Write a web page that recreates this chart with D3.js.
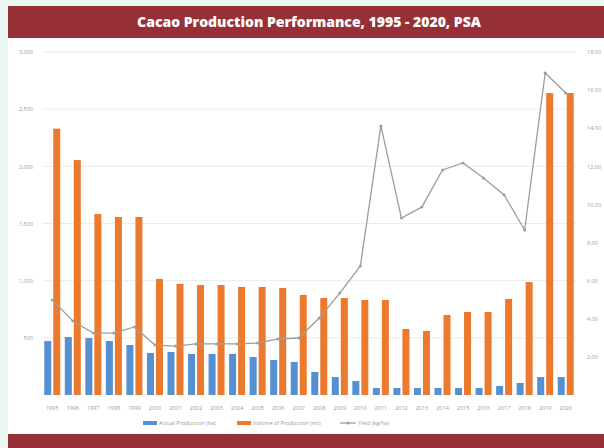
<!DOCTYPE html>
<html><head><meta charset="utf-8">
<script src="https://cdn.jsdelivr.net/npm/d3@7"></script>
<style>
html,body{margin:0;padding:0;background:#eaf6f1;}
svg{display:block;}
</style></head>
<body>
<svg id="c" width="604" height="448"></svg>
<script>
const years = ["1995","1996","1997","1998","1999","2000","2001","2002","2003","2004","2005","2006","2007","2008","2009","2010","2011","2012","2013","2014","2015","2016","2017","2018","2019","2020"];
const areaHa = [472,507,498,472,437,367,376,359,359,359,332,306,289,201,157,122,61,61,61,61,61,61,79,105,157,157];
const volumeMt = [2330,2055,1583,1557,1557,1015,971,962,962,945,945,936,875,848,848,831,831,577,560,700,726,726,840,988,2641,2641];
const yieldVals = [4.99,3.88,3.25,3.25,3.57,2.62,2.57,2.68,2.68,2.68,2.73,2.94,2.99,4.04,5.35,6.77,14.12,9.29,9.87,11.81,12.18,11.39,10.50,8.66,16.90,15.85];
const leftTicks = [500,1000,1500,2000,2500,3000];
const rightTicks = [2,4,6,8,10,12,14,16,18];
const seriesNames = ["Actual Production (ha)","Volume of Production (mt)","Yield (kg/ha)"];
const title = "Cacao Production Performance, 1995 - 2020, PSA";

const svg = d3.select("#c");
const blue = "#5590d0", orange = "#eb7a2e", grey = "#9e9e9e";

// panel
svg.append("rect").attr("x",8).attr("y",38).attr("width",596).attr("height",396).attr("fill","#ffffff");
// title banner
svg.append("rect").attr("x",8).attr("y",6).attr("width",596).attr("height",32).attr("fill","#963036");
svg.append("text").attr("x",309).attr("y",27).attr("text-anchor","middle")
  .attr("font-family","'Open Sans', sans-serif").attr("font-weight","800").attr("font-size",14)
  .attr("fill","#ffffff").text(title);
// bottom banner
svg.append("rect").attr("x",8).attr("y",434).attr("width",596).attr("height",14).attr("fill","#963036");

const x = d3.scaleBand().domain(years).range([42,576]).padding(0);
const yL = d3.scaleLinear().domain([0,3000]).range([395,52]);
const yR = d3.scaleLinear().domain([0,18]).range([395,52]);

// gridlines
svg.append("g").selectAll("line").data(leftTicks).join("line")
  .attr("x1",42).attr("x2",576).attr("y1",d=>yL(d)).attr("y2",d=>yL(d))
  .attr("stroke","#ececec").attr("stroke-width",1);

// left axis
const axL = d3.axisLeft(yL).tickValues(leftTicks).tickFormat(d3.format(",")).tickSize(0).tickPadding(7);
const gL = svg.append("g").attr("transform","translate(40,0)").call(axL);
gL.select(".domain").remove();
gL.selectAll("text").attr("font-family","'Open Sans', sans-serif").attr("font-size",5.5).attr("fill","#9a9a9a");

// right axis
const axR = d3.axisRight(yR).tickValues(rightTicks).tickFormat(d3.format(".2f")).tickSize(0).tickPadding(7);
const gR = svg.append("g").attr("transform","translate(580,0)").call(axR);
gR.select(".domain").remove();
gR.selectAll("text").attr("font-family","'Open Sans', sans-serif").attr("font-size",5.5).attr("fill","#9a9a9a");

// bars
const cx = d => x(d) + x.bandwidth()/2;
svg.append("g").selectAll("rect").data(years).join("rect")
  .attr("x",(d)=>cx(d)-8).attr("width",7)
  .attr("y",(d,i)=>yL(areaHa[i])).attr("height",(d,i)=>yL(0)-yL(areaHa[i]))
  .attr("fill",blue);
svg.append("g").selectAll("rect").data(years).join("rect")
  .attr("x",(d)=>cx(d)+1).attr("width",7)
  .attr("y",(d,i)=>yL(volumeMt[i])).attr("height",(d,i)=>yL(0)-yL(volumeMt[i]))
  .attr("fill",orange);

// line
const line = d3.line().x((d,i)=>cx(years[i])).y(d=>yR(d));
svg.append("path").datum(yieldVals).attr("d",line).attr("fill","none").attr("stroke",grey).attr("stroke-width",1.3);
svg.append("g").selectAll("circle").data(yieldVals).join("circle")
  .attr("cx",(d,i)=>cx(years[i])).attr("cy",d=>yR(d)).attr("r",1.5).attr("fill",grey);

// x axis labels
const axB = d3.axisBottom(x).tickSize(0).tickPadding(6);
const gB = svg.append("g").attr("transform","translate(0,402)").call(axB);
gB.select(".domain").remove();
gB.selectAll("text").attr("font-family","'Open Sans', sans-serif").attr("font-size",5.5).attr("fill","#9a9a9a").attr("dy","0.3em");

// legend
const lg = svg.append("g").attr("font-family","'Open Sans', sans-serif").attr("font-size",5.5).attr("fill","#9a9a9a");
const lx = [143, 237, 340];
lg.append("rect").attr("x",lx[0]).attr("y",421).attr("width",14).attr("height",4).attr("fill",blue);
lg.append("text").attr("x",lx[0]+16).attr("y",425).text(seriesNames[0]);
lg.append("rect").attr("x",lx[1]).attr("y",421).attr("width",14).attr("height",4).attr("fill",orange);
lg.append("text").attr("x",lx[1]+16).attr("y",425).text(seriesNames[1]);
lg.append("line").attr("x1",lx[2]).attr("x2",lx[2]+16).attr("y1",423).attr("y2",423).attr("stroke",grey).attr("stroke-width",1.3);
lg.append("circle").attr("cx",lx[2]+8).attr("cy",423).attr("r",1.5).attr("fill",grey);
lg.append("text").attr("x",lx[2]+18).attr("y",425).text(seriesNames[2]);
</script>
</body></html>
